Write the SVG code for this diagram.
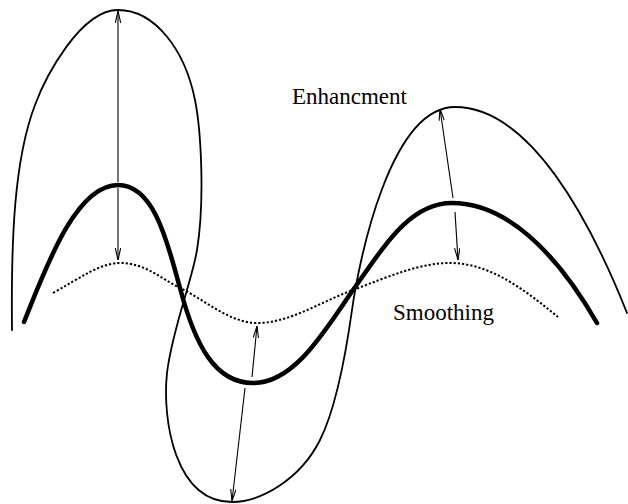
<svg xmlns="http://www.w3.org/2000/svg" width="628" height="504" viewBox="0 0 628 504">
<style>
.curve{fill:none;stroke:#000;stroke-linecap:round;stroke-linejoin:round}
.thick{stroke-width:4.5}
.thin{stroke-width:1.8}
.dot{stroke-width:2;stroke-dasharray:2.2 2;stroke-linecap:butt}
.arr{fill:none;stroke:#000;stroke-width:1.1;marker-end:url(#ah)}
.lbl{font-family:"Liberation Serif","Times New Roman",serif;font-size:23px;fill:#000}
</style>
<defs>
<marker id="ah" viewBox="0 0 12 6" refX="12" refY="3" markerWidth="12" markerHeight="6" markerUnits="userSpaceOnUse" orient="auto">
<path d="M0,0.3 L12,3 L0,5.7" fill="none" stroke="#000" stroke-width="1.1"/>
</marker>
</defs>
<g id="enhanced">
<path class="curve thin" d="M12,330 C11,240 14,160 35,105 C45,78 80,10 118,10 C155,10 185,50 195,100 C201,130 205,200 197,250 C192,281 172,330 167,373 C162,420 175,502 232,502 C260,502 300,480 320,440 C335,410 345,360 352,310 C359,260 390,107 455,107 C530,107 590,220 627,313"/>
</g>
<g id="original">
<path class="curve thick" d="M24,322 C45,270 75,185 118,185 C155,185 168,245 180,288 C195,345 215,383 253,383 C295,383 325,330 353,290 C385,245 410,203 452,203 C505,203 555,250 597,323"/>
</g>
<g id="smoothed">
<path class="curve dot" d="M53,293 C80,278 100,263 120,263 C145,263 160,278 180,288 C205,300 230,323 257,323 C290,323 320,302 353,290 C390,276 420,263 450,263 C490,263 525,290 558,317"/>
</g>
<g id="connectors">
<line class="arr" x1="118" y1="182" x2="118" y2="11"/>
<line class="arr" x1="118" y1="188" x2="118" y2="260"/>
<line class="arr" x1="252" y1="377" x2="257" y2="326"/>
<line class="arr" x1="245" y1="388" x2="232" y2="501"/>
<line class="arr" x1="453" y1="198" x2="440" y2="109"/>
<line class="arr" x1="455" y1="212" x2="458" y2="260"/>
</g>
<g id="labels">
<text class="lbl" x="292" y="104">Enhancment</text>
<text class="lbl" x="393" y="320">Smoothing</text>
</g>
</svg>
